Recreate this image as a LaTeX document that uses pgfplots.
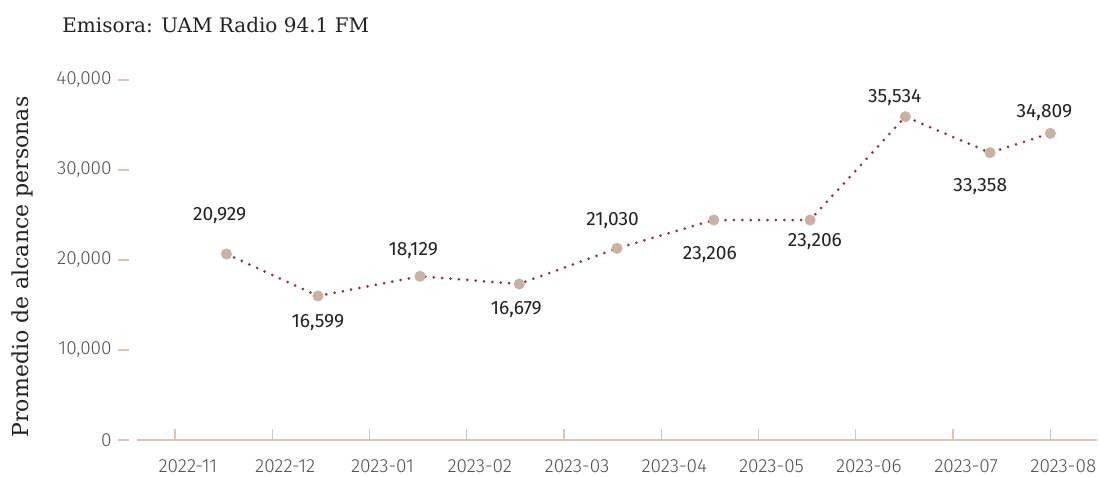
\documentclass[border=0pt]{standalone}
\usepackage{fontspec}
\setmainfont{Fira Sans}
\newfontfamily\light{Fira Sans Light}
\newfontfamily\slab{DejaVu Serif}
\usepackage{pgfplots}
\pgfplotsset{compat=1.18}

\definecolor{linecol}{RGB}{140,50,85}
\definecolor{markcol}{RGB}{201,178,160}
\definecolor{axiscol}{RGB}{218,198,184}
\definecolor{ticktext}{RGB}{80,80,80}
\definecolor{labtext}{RGB}{34,34,34}

\pgfplotstableread{
x y
0.53 20670
1.47 16000
2.52 18190
3.54 17330
4.545 21300
5.54 24440
6.53 24440
7.51 35920
8.38 31920
9.0 34070
}\reach

\begin{document}
\begin{tikzpicture}
\begin{axis}[
    scale only axis,
    width=480pt, height=180pt,
    xmin=-0.39, xmax=9.48,
    ymin=0, ymax=40000,
    clip=false,
    axis x line*=bottom,
    axis y line*=left,
    y axis line style={draw=none},
    x axis line style={draw=axiscol, line width=0.8pt},
    xtick={0,...,9},
    xticklabels={2022-11,2022-12,2023-01,2023-02,2023-03,2023-04,2023-05,2023-06,2023-07,2023-08},
    ytick={0,10000,20000,30000,40000},
    scaled y ticks=false,
    tick align=inside,
    major tick length=5.5pt,
    xtick style={draw=axiscol, line width=0.6pt},
    ytick style={draw=axiscol, line width=0.6pt, xshift=-9.5pt},
    tick label style={font=\light\fontsize{9.5}{11}\selectfont, text=ticktext, inner sep=0pt},
    xticklabel style={anchor=base, yshift=-16.5pt, xshift=6.5pt},
    yticklabel style={anchor=east, xshift=-12.5pt},
    /pgf/number format/.cd, 1000 sep={,}, assume math mode=true,
]
% dotted line
\addplot[linecol, line width=1.5pt, line cap=round, dash pattern=on 0pt off 4.2pt, mark=none]
    table {\reach};
% points
\addplot[only marks, mark=*, mark size=2.6pt, fill=markcol, draw=markcol, line width=0.3pt]
    table {\reach};
% value labels
\addplot[draw=none, mark=none, nodes near coords, point meta=explicit symbolic,
    every node near coord/.append style={anchor=center, inner sep=0pt,
        font=\fontsize{9.6}{11}\selectfont, text=labtext}]
table[meta=lab] {
x y lab
0.46 24920 20,929
1.47 13000 16,599
2.45 21100 18,129
3.51 14440 16,679
4.50 24370 21,030
5.50 20560 23,206
6.58 22030 23,206
7.40 38000 35,534
8.28 28150 33,358
8.94 36370 34,809
};
\end{axis}
\node[anchor=west, inner sep=0pt, font=\slab\fontsize{10}{12}\selectfont, text=labtext]
    at ([xshift=-37.5pt, yshift=207.5pt]current axis.south west) {Emisora: UAM Radio 94.1 FM};
\node[rotate=90, inner sep=0pt, font=\slab\fontsize{11}{13}\selectfont, text=labtext]
    at ([xshift=-57.5pt, yshift=86.5pt]current axis.south west) {Promedio de alcance personas};
\pgfresetboundingbox
\path ([xshift=-68.5pt, yshift=-18.5pt]current axis.south west)
    rectangle ([xshift=1.5pt, yshift=40pt]current axis.north east);
\end{tikzpicture}
\end{document}
